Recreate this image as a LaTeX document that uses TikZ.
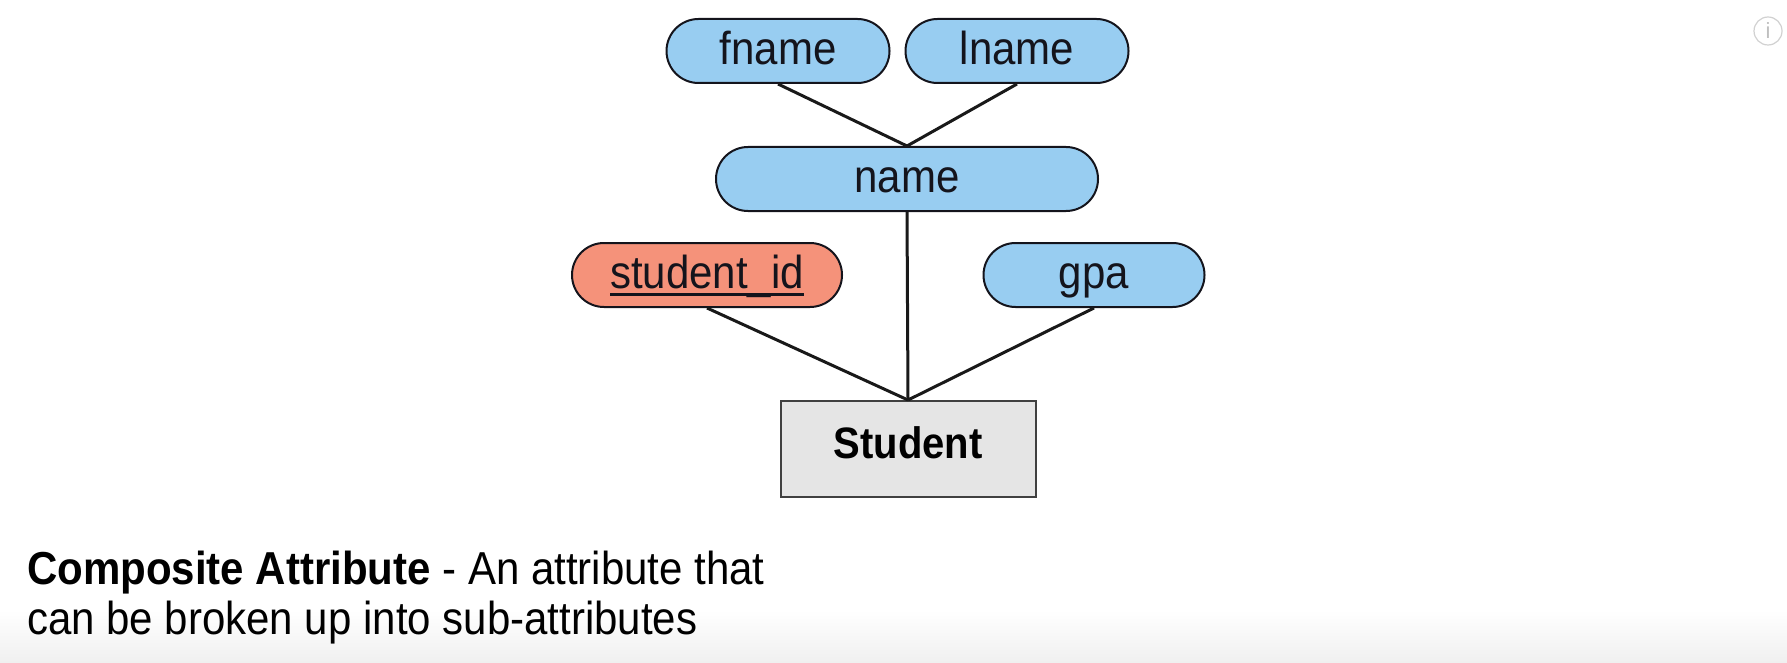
\documentclass[tikz,border=0pt]{standalone}
\usepackage{fontspec}
\setmainfont{Liberation Sans}
\usetikzlibrary{shapes.misc}
\definecolor{attrblue}{RGB}{152,205,241}
\definecolor{keyred}{RGB}{245,146,122}
\definecolor{entgray}{RGB}{229,229,229}
\definecolor{inkdark}{RGB}{20,20,28}
\newcommand\keyul[1]{\setbox0\hbox{#1}\rlap{\vrule height -4pt depth 7pt width \wd0}\box0}
\newcommand\tallt[1]{\scalebox{1}[1.1]{#1}}
\tikzset{
  attr/.style={rounded rectangle, draw=inkdark, line width=2pt, fill=attrblue,
    minimum height=64pt, inner xsep=0pt, inner ysep=0pt, text=inkdark,
    text height=35pt, text depth=8pt,
    font=\fontsize{42}{48}\selectfont},
  entity/.style={rectangle, draw=black!75, line width=2pt, fill=entgray,
    minimum width=255pt, minimum height=96pt, inner ysep=0pt,
    text height=26pt, text depth=8pt,
    font=\fontsize{40}{46}\selectfont\bfseries},
  link/.style={line width=3pt, draw=black!90},
  caption/.style={anchor=base west, inner sep=0pt, font=\fontsize{42}{50}\selectfont}
}
\begin{document}
\begin{tikzpicture}[x=1pt,y=-1pt]
\useasboundingbox (0,0) rectangle (1787,663);
\shade[top color=white, bottom color=black!6] (0,610) rectangle (1787,663);
\node[attr, minimum width=223pt] (fname) at (778,51) {\tallt{fname}};
\node[attr, minimum width=223pt] (lname) at (1017,51) {\tallt{lname}};
\node[attr, minimum width=382pt] (name) at (907,179) {\tallt{name}};
\node[attr, minimum width=270pt, fill=keyred] (sid) at (707,275) {\tallt{\keyul{student\_id}}};
\node[attr, minimum width=221pt] (gpa) at (1094,275) {\tallt{gpa}};
\node[entity] (student) at (908,449) {\tallt{Student}};
\draw[link] (fname.south) -- (name.north);
\draw[link] (lname.south) -- (name.north);
\draw[link] (name.south) -- (student.north);
\draw[link] (sid.south) -- (student.north);
\draw[link] (gpa.south) -- (student.north);
\node[caption] (cap1) at (27,584) {\tallt{\textbf{Composite Attribute} - An attribute that}};
\node[caption] (cap2) at (27,634) {\tallt{can be broken up into sub-attributes}};
\node[circle, draw=black!18, line width=1.2pt, minimum size=28pt, inner sep=0pt,
  text=black!25, font=\fontsize{22}{24}\selectfont] (info) at (1768,31) {i};
\end{tikzpicture}
\end{document}
